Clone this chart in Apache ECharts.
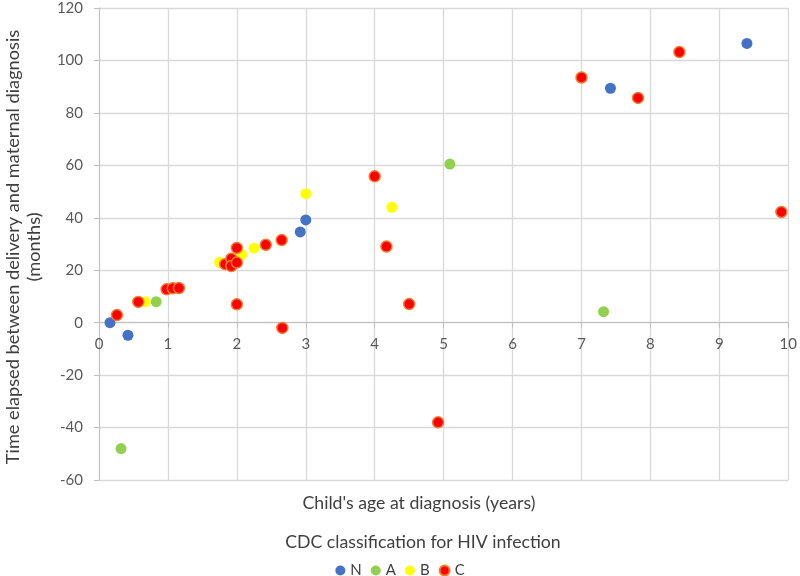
<!DOCTYPE html>
<html><head><meta charset="utf-8">
<script src="https://cdn.jsdelivr.net/npm/echarts@6/dist/echarts.min.js"></script>
<style>html,body{margin:0;padding:0;background:#fff}#c{width:800px;height:576px}</style>
</head><body><div id="c"></div>
<script>
const xTicks = [0,1,2,3,4,5,6,7,8,9,10];
const yTicks = [-60,-40,-20,0,20,40,60,80,100,120];
const seriesNames = ['N','A','B','C'];
const dataN = [[0.16,0],[0.42,-4.8],[2.92,34.6],[3.0,39.2],[7.42,89.4],[9.4,106.5]];
const dataA = [[0.32,-48],[0.83,8.0],[5.09,60.5],[7.32,4.2]];
const dataB = [[0.67,8.0],[1.75,23],[2.07,26],[2.25,28.4],[3.0,49.2],[4.25,44]];
const dataC = [[0.26,2.9],[0.57,7.9],[0.98,12.7],[1.07,13.1],[1.16,13.2],[1.83,22.3],[1.92,24.4],[1.92,21.6],[2.0,22.9],[2.0,28.5],[2.0,7.0],[2.42,29.7],[2.65,31.5],[2.66,-2.0],[4.0,55.8],[4.17,29],[4.5,7.1],[4.92,-38],[7.0,93.5],[7.82,85.7],[8.42,103.2],[9.9,42.2]];

const FONT = 'Lato';
const chart = echarts.init(document.getElementById('c'), null, {renderer:'canvas'});
const colors = {N:'#4472C4', A:'#92D050', B:'#FFFF00', C:'#FF0000'};
function mk(name, data){
  const s = {name, type:'scatter', data, symbol:'circle', symbolSize:11,
    itemStyle:{color:colors[name], opacity:1}, emphasis:{disabled:true}};
  if (name==='C') { s.itemStyle.borderColor = '#ED7D31'; s.itemStyle.borderWidth = 1.5; }
  return s;
}
const gridTop = 8, gridBottom = 96, plotH = 576 - gridTop - gridBottom;
const yMin = yTicks[0], yMax = yTicks[yTicks.length-1];
const zeroOffset = -plotH * (0 - yMin) / (yMax - yMin);
chart.setOption({
  animation:false,
  textStyle:{fontFamily:FONT},
  grid:{left:99, right:11, top:gridTop, bottom:gridBottom, containLabel:false},
  title:[
    {text:"Child's age at diagnosis (years)", left:414, top:489, textAlign:'center',
     textStyle:{fontFamily:FONT, fontSize:17.7, fontWeight:'normal', color:'#404040'}},
    {text:"CDC classification for HIV infection", left:418, top:528, textAlign:'center',
     textStyle:{fontFamily:FONT, fontSize:17.7, fontWeight:'normal', color:'#404040'}}
  ],
  graphic:[{type:'text', x:24, y:247, rotation:Math.PI/2,
    style:{text:'Time elapsed between delivery and maternal diagnosis\n(months)', fontFamily:FONT,
      fontSize:18.2, fill:'#404040', align:'center', verticalAlign:'middle', lineHeight:21}}],
  legend:{data:seriesNames, top:558, left:'center', icon:'circle', itemWidth:10, itemHeight:10, itemGap:9,
    textStyle:{fontFamily:FONT, fontSize:15, color:'#404040'}},
  xAxis:{type:'value', min:xTicks[0], max:xTicks[xTicks.length-1], interval:1,
    offset:zeroOffset,
    axisLine:{onZero:false, lineStyle:{color:'#BFBFBF', width:1}},
    axisTick:{show:true, length:5, lineStyle:{color:'#BFBFBF'}},
    axisLabel:{fontFamily:FONT, fontSize:15, color:'#595959', margin:14},
    splitLine:{show:true, lineStyle:{color:'#D9D9D9', width:1.3}}},
  yAxis:{type:'value', min:yMin, max:yMax, interval:20,
    axisLine:{show:true, onZero:false, lineStyle:{color:'#BFBFBF', width:1}},
    axisTick:{show:true, length:5, lineStyle:{color:'#BFBFBF'}},
    axisLabel:{fontFamily:FONT, fontSize:15, color:'#595959', margin:16},
    splitLine:{show:true, lineStyle:{color:'#D9D9D9', width:1.3}}},
  series:[mk('N',dataN), mk('A',dataA), mk('B',dataB), mk('C',dataC)]
});
</script></body></html>
